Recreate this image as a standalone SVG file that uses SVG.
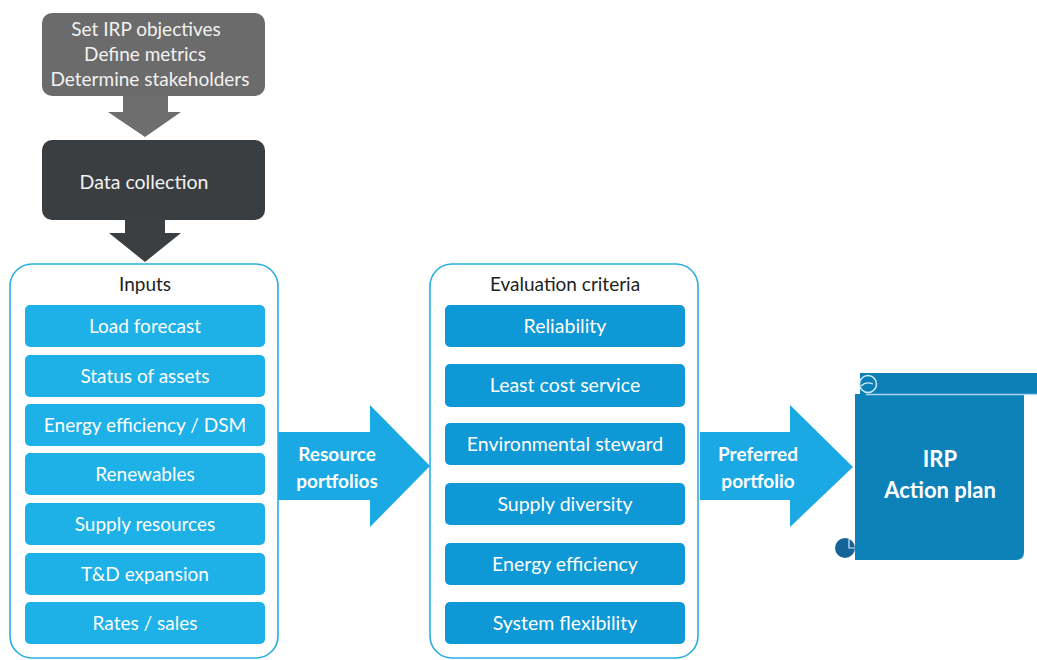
<svg xmlns="http://www.w3.org/2000/svg" width="1037" height="660" viewBox="0 0 1037 660">
  <style>
    .t { font-family: Lato, "Open Sans", "Liberation Sans", sans-serif; text-anchor: middle; }
    .wt { fill: #ffffff; font-size: 19px; }
    .we { fill: #ffffff; font-size: 19.5px; }
    .hd { fill: #222222; font-size: 19px; }
    .lt { fill: #f2f2f2; }
    .bold { font-weight: bold; }
    .inp { fill: #1db1e7; }
    .ev { fill: #0e98d6; }
    .frame { fill: #ffffff; stroke: #2aaee2; stroke-width: 1.6; }
    .fat { fill: #1aa9e2; }
  </style>
  <rect width="1037" height="660" fill="#ffffff"/>

  <!-- flow arrows between stages -->
  <g id="connectors">
    <path d="M123,96 H168 V112 H181 L145,137 L108,112 H123 Z" fill="#6e6e6e"/>
    <path d="M125,220 H165 V233 H181 L145,262 L109,233 H125 Z" fill="#3c3f42"/>
    <path d="M277,432 H370 V405 L430,466 L370,527 V500 H277 Z" class="fat"/>
    <path d="M700,432 H790 V405 L853,467 L790,527 V500 H700 Z" class="fat"/>
    <text class="t bold" x="337" y="461" fill="#ffffff" font-size="19">Resource</text>
    <text class="t bold" x="337" y="488" fill="#ffffff" font-size="19">portfolios</text>
    <text class="t bold" x="758" y="461" fill="#ffffff" font-size="19">Preferred</text>
    <text class="t bold" x="758" y="488" fill="#ffffff" font-size="19">portfolio</text>
  </g>

  <g id="objectives">
    <rect x="42" y="13" width="223" height="83" rx="10" fill="#6b6b6b"/>
    <text class="t lt" x="146" y="36" font-size="19">Set IRP objectives</text>
    <text class="t lt" x="145" y="61" font-size="19">Define metrics</text>
    <text class="t lt" x="150" y="86" font-size="19">Determine stakeholders</text>
  </g>

  <g id="data-collection">
    <rect x="42" y="140" width="223" height="80" rx="10" fill="#3b3e41"/>
    <text class="t lt" x="144" y="189" font-size="19.5">Data collection</text>
  </g>

  <g id="inputs">
    <rect class="frame" x="10" y="264" width="268" height="394" rx="22"/>
    <text class="t hd" x="145" y="291">Inputs</text>
    <rect class="inp" x="25" y="305" width="240" height="42" rx="5"/>
    <text class="t wt" x="145" y="333">Load forecast</text>
    <rect class="inp" x="25" y="355" width="240" height="42" rx="5"/>
    <text class="t wt" x="145" y="383">Status of assets</text>
    <rect class="inp" x="25" y="404" width="240" height="42" rx="5"/>
    <text class="t wt" x="145" y="432">Energy efficiency / DSM</text>
    <rect class="inp" x="25" y="453" width="240" height="42" rx="5"/>
    <text class="t wt" x="145" y="481">Renewables</text>
    <rect class="inp" x="25" y="503" width="240" height="42" rx="5"/>
    <text class="t wt" x="145" y="531">Supply resources</text>
    <rect class="inp" x="25" y="553" width="240" height="42" rx="5"/>
    <text class="t wt" x="145" y="581">T&amp;D expansion</text>
    <rect class="inp" x="25" y="602" width="240" height="42" rx="5"/>
    <text class="t wt" x="145" y="630">Rates / sales</text>
  </g>

  <g id="evaluation">
    <rect class="frame" x="430" y="264" width="268" height="394" rx="22"/>
    <text class="t hd" x="565" y="291">Evaluation criteria</text>
    <rect class="ev" x="445" y="305" width="240" height="42" rx="5"/>
    <text class="t we" x="565" y="333">Reliability</text>
    <rect class="ev" x="445" y="364" width="240" height="43" rx="5"/>
    <text class="t we" x="565" y="392">Least cost service</text>
    <rect class="ev" x="445" y="423" width="240" height="42" rx="5"/>
    <text class="t we" x="565" y="451">Environmental steward</text>
    <rect class="ev" x="445" y="483" width="240" height="42" rx="5"/>
    <text class="t we" x="565" y="511">Supply diversity</text>
    <rect class="ev" x="445" y="543" width="240" height="42" rx="5"/>
    <text class="t we" x="565" y="571">Energy efficiency</text>
    <rect class="ev" x="445" y="602" width="240" height="42" rx="5"/>
    <text class="t we" x="565" y="630">System flexibility</text>
  </g>

  <g id="action-plan">
    <!-- scroll body -->
    <path d="M855,394 H1024 V552 Q1024,560 1016,560 H855 Z" fill="#0d82b9"/>
    <!-- top roll -->
    <rect x="860" y="373" width="177" height="21" fill="#0c7fb6"/>
    <line x1="866" y1="394.5" x2="1037" y2="394.5" stroke="#a9d8ef" stroke-width="1.5"/>
    <circle cx="868" cy="384" r="8.5" fill="#0c7fb6" stroke="#d4ecf7" stroke-width="1.5"/>
    <path d="M861,386 Q866,381 873,384" stroke="#d4ecf7" stroke-width="1.2" fill="none"/>
    <!-- bottom roll -->
    <circle cx="845" cy="548" r="10" fill="#16639a"/>
    <path d="M849,539 V548 H855" stroke="#d4ecf7" stroke-width="1.2" fill="none"/>
    <text class="t bold" x="940" y="467" fill="#ffffff" font-size="22">IRP</text>
    <text class="t bold" x="940" y="498" fill="#ffffff" font-size="22">Action plan</text>
  </g>
</svg>
